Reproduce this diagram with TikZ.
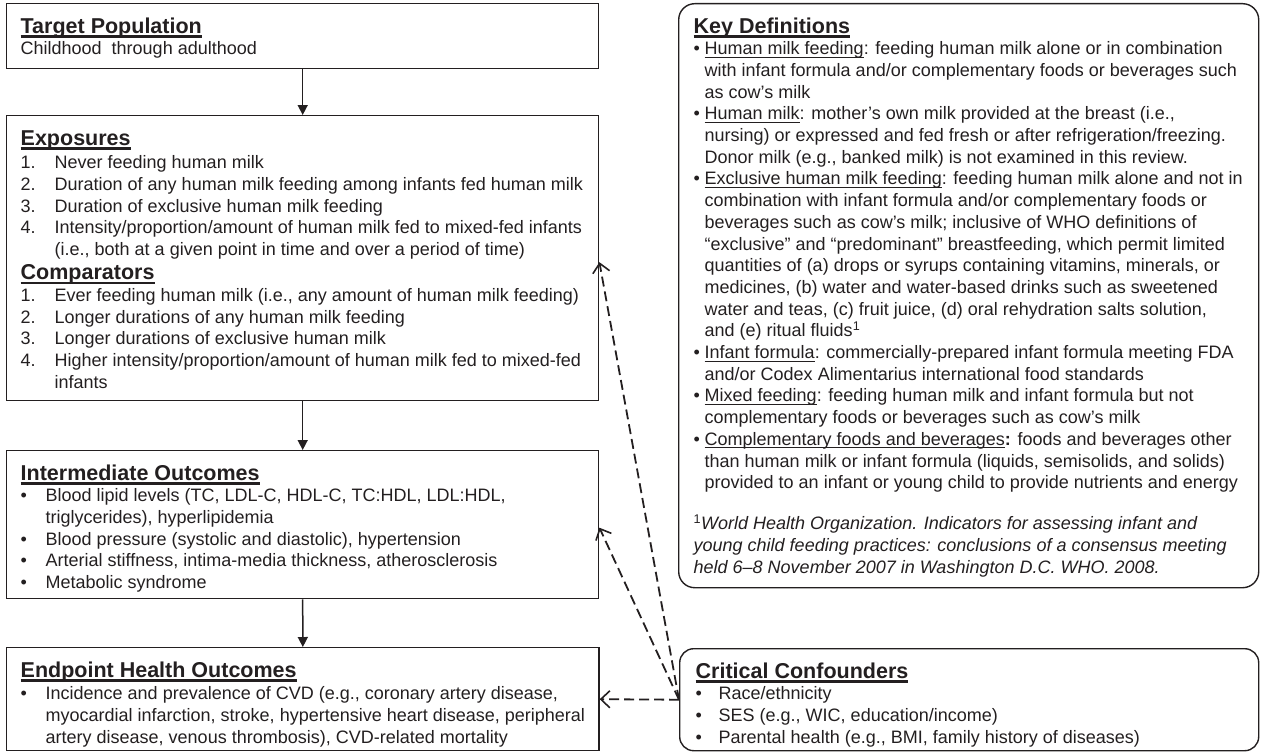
\documentclass[tikz,border=0pt]{standalone}
\usepackage{fontspec}
\setmainfont{Liberation Sans}
\usetikzlibrary{arrows.meta}
\definecolor{ink}{HTML}{231F20}

\newsavebox{\ubox}
\newcommand{\undl}[3]{\sbox\ubox{#3}\rlap{\rule[\dimexpr-#1-#2\relax]{\wd\ubox}{#2}}\usebox\ubox}
\newcommand{\boxtext}[3]{\begin{minipage}[c][#2pt][t]{#1pt}\setlength{\lineskiplimit}{-100pt}\setlength{\parindent}{0pt}#3\hrule height 0pt depth 0pt width #1pt\end{minipage}}
\newcommand{\fhd}[1]{{\fontsize{21.5}{24}\selectfont\bfseries\hbox{\rule{0pt}{29.5pt}\undl{2.2pt}{2.2pt}{#1}}}}
\newcommand{\hd}[2][23.5]{{\fontsize{21.5}{#1}\selectfont\bfseries\hbox{\undl{2.2pt}{2.2pt}{#2}}}}
\newcommand{\bl}[2][21.7]{{\fontsize{18}{#1}\selectfont\hbox{#2}}}
\newcommand{\nm}[1]{\makebox[34pt][l]{#1}}
\newcommand{\bu}[1][25pt]{\makebox[#1][l]{\textbullet}}
\newcommand{\term}[1]{\undl{2pt}{1pt}{#1}}

\begin{document}
\begin{tikzpicture}[x=1pt,y=1pt,
  box/.style={draw=ink, line width=1.4pt, inner ysep=0pt, inner xsep=14pt, anchor=north west, text=ink},
  rbox/.style={box, rounded corners=16pt},
  flow/.style={draw=ink, line width=1.5pt, -{Triangle[length=10pt,width=10pt]}},
  dsh/.style={draw=ink, line width=1.8pt, dash pattern=on 10pt off 5pt, -{Straight Barb[length=9pt,width=17pt,line width=1.6pt]}}]
\useasboundingbox (0,0) rectangle (1263,-752);

\node[box] (target) at (6,-3) {\boxtext{564}{65}{%
  \fhd{Target Population}
  \bl[21.5]{Childhood\ \ through adulthood}}};

\node[box] (expo) at (6,-115) {\boxtext{564}{285}{%
  \fhd{Exposures}
  \bl[23.5]{\nm{1.}Never feeding human milk}
  \bl{\nm{2.}Duration of any human milk feeding among infants fed human milk}
  \bl{\nm{3.}Duration of exclusive human milk feeding}
  \bl{\nm{4.}Intensity/proportion/amount of human milk fed to mixed-fed infants}
  \bl{\nm{}(i.e., both at a given point in time and over a period of time)}
  \hd[24]{Comparators}
  \bl[22]{\nm{1.}Ever feeding human milk (i.e., any amount of human milk feeding)}
  \bl{\nm{2.}Longer durations of any human milk feeding}
  \bl{\nm{3.}Longer durations of exclusive human milk}
  \bl{\nm{4.}Higher intensity/proportion/amount of human milk fed to mixed-fed}
  \bl{\nm{}infants}}};

\node[box] (inter) at (6,-450) {\boxtext{564}{148}{%
  \fhd{Intermediate Outcomes}
  \bl[21.5]{\bu Blood lipid levels (TC, LDL-C, HDL-C, TC:HDL, LDL:HDL,}
  \bl{\makebox[25pt]{}triglycerides), hyperlipidemia}
  \bl{\bu Blood pressure (systolic and diastolic), hypertension}
  \bl{\bu Arterial stiffness, intima-media thickness, atherosclerosis}
  \bl{\bu Metabolic syndrome}}};

\node[box] (endp) at (6,-647) {\boxtext{564}{103}{%
  \fhd{Endpoint Health Outcomes}
  \bl[22.5]{\bu Incidence and prevalence of CVD (e.g., coronary artery disease,}
  \bl{\makebox[25pt]{}myocardial infarction, stroke, hypertensive heart disease, peripheral}
  \bl{\makebox[25pt]{}artery disease, venous thrombosis), CVD-related mortality}}};

\node[rbox, inner xsep=15pt] (kd) at (678,-3) {\boxtext{550}{584}{%
  \fhd{Key Definitions}
  \bl[21.5]{\bu[11pt]\term{Human milk feeding}: feeding human milk alone or in combination}
  \bl{\makebox[11pt]{}with infant formula and/or complementary foods or beverages such}
  \bl{\makebox[11pt]{}as cow’s milk}
  \bl{\bu[11pt]\term{Human milk}: mother’s own milk provided at the breast (i.e.,}
  \bl{\makebox[11pt]{}nursing) or expressed and fed fresh or after refrigeration/freezing.}
  \bl{\makebox[11pt]{}Donor milk (e.g., banked milk) is not examined in this review.}
  \bl{\bu[11pt]\term{Exclusive human milk feeding}: feeding human milk alone and not in}
  \bl{\makebox[11pt]{}combination with infant formula and/or complementary foods or}
  \bl{\makebox[11pt]{}beverages such as cow’s milk; inclusive of WHO definitions of}
  \bl{\makebox[11pt]{}“exclusive” and “predominant” breastfeeding, which permit limited}
  \bl{\makebox[11pt]{}quantities of (a) drops or syrups containing vitamins, minerals, or}
  \bl{\makebox[11pt]{}medicines, (b) water and water-based drinks such as sweetened}
  \bl{\makebox[11pt]{}water and teas, (c) fruit juice, (d) oral rehydration salts solution,}
  \bl{\makebox[11pt]{}and (e) ritual fluids\textsuperscript{1}}
  \bl{\bu[11pt]\term{Infant formula}: commercially-prepared infant formula meeting FDA}
  \bl{\makebox[11pt]{}and/or Codex Alimentarius international food standards}
  \bl{\bu[11pt]\term{Mixed feeding}: feeding human milk and infant formula but not}
  \bl{\makebox[11pt]{}complementary foods or beverages such as cow’s milk}
  \bl{\bu[11pt]\term{Complementary foods and beverages}\textbf{:} foods and beverages other}
  \bl{\makebox[11pt]{}than human milk or infant formula (liquids, semisolids, and solids)}
  \bl{\makebox[11pt]{}provided to an infant or young child to provide nutrients and energy}
  \bl[41]{\itshape\textsuperscript{\upshape 1}World Health Organization. Indicators for assessing infant and}
  \bl[22]{\itshape young child feeding practices: conclusions of a consensus meeting}
  \bl[22]{\itshape held 6–8 November 2007 in Washington D.C. WHO. 2008.}}};

\node[rbox, rounded corners=14pt, inner xsep=16pt] (conf) at (679,-648) {\boxtext{547}{102}{%
  \fhd{Critical Confounders}
  \bl[21.5]{\bu[23pt]Race/ethnicity}
  \bl{\bu[23pt]SES (e.g., WIC, education/income)}
  \bl{\bu[23pt]Parental health (e.g., BMI, family history of diseases)}}};

\draw[flow] (target.south) -- (expo.north);
\draw[flow] (expo.south) -- (inter.north);
\draw[flow] (inter.south) -- (endp.north);

\draw[dsh] (conf.west) -- (endp.east);
\draw[dsh] (conf.west) -- ([yshift=-3pt]inter.east);
\draw[dsh] (conf.west) -- ([yshift=-4pt]expo.east);
\end{tikzpicture}
\end{document}
